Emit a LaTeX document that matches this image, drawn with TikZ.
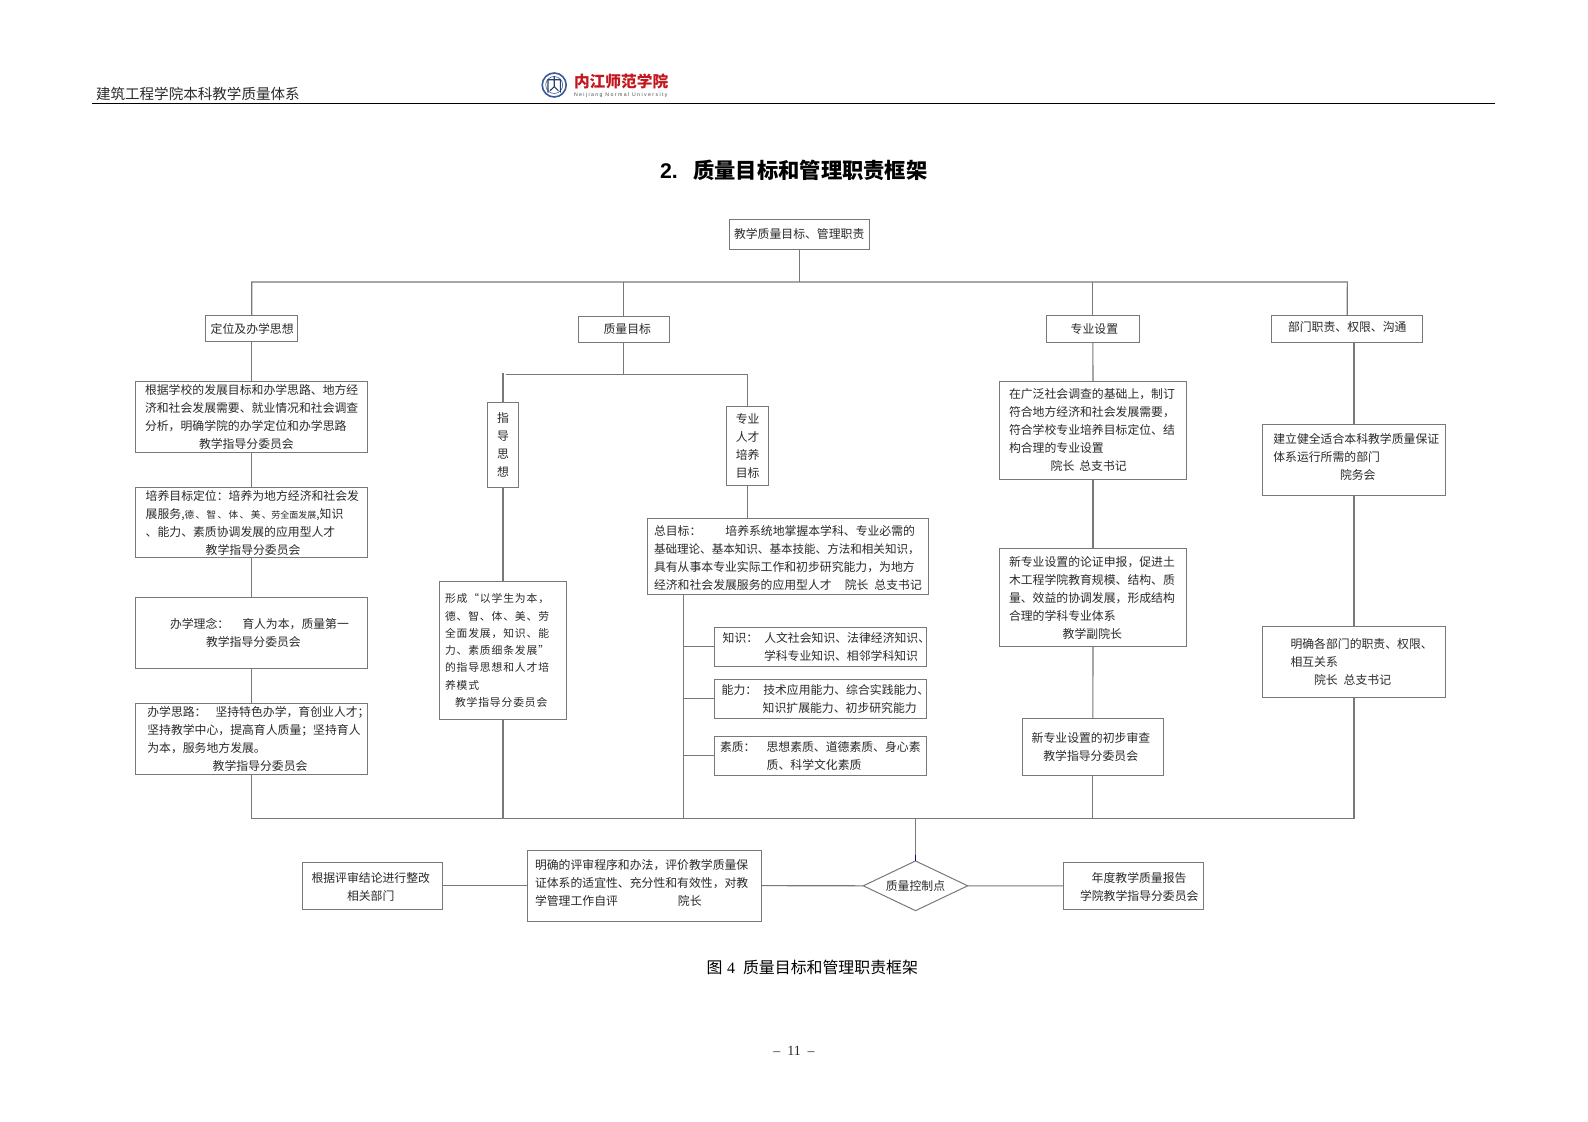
\documentclass[tikz,border=0pt]{standalone}
\usepackage{fontspec}
\setmainfont{Noto Sans CJK SC}
\newfontfamily\latf{Liberation Serif}
\newfontfamily\lats{Liberation Sans}
\usetikzlibrary{shapes.geometric,calc}
\definecolor{ln}{HTML}{787878}
\definecolor{tx}{HTML}{2A2A2A}
\definecolor{logored}{HTML}{C4161C}
\definecolor{logoblue}{HTML}{3A5A9A}
\newcommand{\bodyfont}{\fontsize{11.85}{18}\selectfont}
\newcommand{\ind}[1]{\hspace*{#1pt}}
\newcommand{\dnrule}[1]{\rule{0pt}{#1pt}}
\newcommand{\uprule}[1]{\rule[-#1pt]{0pt}{#1pt}}
\newcommand{\flowbx}[7]{%
  \pgfmathsetmacro\fcx{(#2+#4)/2}\pgfmathsetmacro\fcy{(#3+#5)/2}%
  \pgfmathsetmacro\fww{#4-#2}\pgfmathsetmacro\fhh{#5-#3}%
  \node[flowbox,minimum width=\fww pt,minimum height=\fhh pt,text width=\fww pt] (#1) at (\fcx,\fcy) {\leftskip=#6pt\relax #7\par};}
\tikzset{
  flowbox/.style={draw=ln,line width=1pt,rectangle,inner sep=0pt,outer sep=0pt,align=left,text=tx,font=\bodyfont,fill=white},
  conn/.style={draw=ln,line width=1.1pt},
  plain/.style={inner sep=0pt,outer sep=0pt,text=tx}
}
\begin{document}
\begin{tikzpicture}[x=1pt,y=-1pt]
\useasboundingbox (0,0) rectangle (1588,1122);
% header
\node[plain,anchor=west,font=\fontsize{14.55}{16}\selectfont] (head) at (96,93.5) {建筑工程学院本科教学质量体系};
\coordinate (ruleL) at (92,103.7);
\coordinate (ruleR) at (1495.3,103.7);
\draw[black,line width=1.5pt] (ruleL) -- (ruleR);
% logo
\draw[logoblue,line width=1.6pt] (554.2,85) circle (12);
\draw[logoblue,line width=.6pt] (554.2,85) circle (8.5);
\draw[logoblue!70!black,line width=1.1pt] (548,92.7) -- (548,79.7) -- (560.4,79.7) -- (560.4,92.7) (554.2,76.2) -- (554.2,86.7) -- (550,90.7) (554.2,86.7) -- (558.4,90.7);
\node[plain,anchor=west,text=logored,font=\fontsize{15.7}{16}\bfseries\selectfont] (lgcn) at (574,81.7) {内江师范学院};
\node[plain,anchor=west,text=black!70,font=\lats\fontsize{5.2}{6}\selectfont\addfontfeature{LetterSpace=27}] (lgen) at (574,95) {Neijiang Normal University};
% title
\node[plain,anchor=west,text=black,font=\fontsize{21.3}{24}\bfseries\selectfont] (title) at (660,170) {{\lats 2.}\hspace{15.5pt}质量目标和管理职责框架};
% top
\flowbx{top}{729.3}{219}{869.7}{249.3}{4.7}{教学质量目标、管理职责}
\coordinate (busL) at (251.7,282);
\coordinate (busR) at (1347.3,282);
% column heads
\flowbx{dw}{205.7}{315.7}{297.7}{341.7}{5}{定位及办学思想}
\flowbx{zl}{578.3}{316}{669.5}{342}{25.3}{质量目标}
\flowbx{zy}{1046.7}{315.3}{1139}{342}{24}{专业设置}
\flowbx{bm}{1271.7}{315.3}{1422.7}{342}{16.3}{部门职责、权限、沟通\uprule{5}}
% column 1
\flowbx{a1}{135.7}{381}{367.7}{452.3}{9.3}{根据学校的发展目标和办学思路、地方经\\济和社会发展需要、就业情况和社会调查\\分析，明确学院的办学定位和办学思路\\\ind{54}教学指导分委员会}
\flowbx{a2}{135.7}{487.3}{367.7}{557.7}{10}{培养目标定位：培养为地方经济和社会发\\展服务,{\fontsize{9.6}{18}\selectfont\addfontfeature{LetterSpace=15}德、智、体、美、}{\fontsize{9}{18}\selectfont 劳全面发展},知识\\、能力、素质协调发展的应用型人才\\\ind{60}教学指导分委员会}
\flowbx{a3}{135.7}{597.3}{367.7}{668.3}{34.3}{办学理念：\ind{13}育人为本，质量第一\\\ind{36}教学指导分委员会}
\flowbx{a4}{135.7}{703.3}{367.7}{774.3}{11.6}{办学思路：\ind{9}坚持特色办学，育创业人才；\\坚持教学中心，提高育人质量；坚持育人\\为本，服务地方发展。\\\ind{65.4}教学指导分委员会}
% column 2
\flowbx{zd}{487.3}{402.7}{518.7}{487}{9.8}{指\\导\\思\\想}
\flowbx{xc}{439.3}{581.7}{566.7}{719.3}{5.7}{\fontsize{10.8}{17.3}\selectfont\addfontfeature{LetterSpace=8}形成“以学生为本，\\德、智、体、美、劳\\全面发展，知识、能\\力、素质细条发展”\\的指导思想和人才培\\养模式\\\ind{10}教学指导分委员会}
\flowbx{rc}{726.3}{406}{768.7}{485.7}{9.5}{专业\\人才\\培养\\目标}
\flowbx{zm}{647.3}{518.3}{928.7}{594.3}{6.7}{\dnrule{14}总目标：\ind{24}培养系统地掌握本学科、专业必需的\\{\fontsize{11.55}{18}\selectfont 基础理论、基本知识、基本技能、方法和相关知识，}\\具有从事本专业实际工作和初步研究能力，为地方\\经济和社会发展服务的应用型人才\ind{13}院长\ind{6}总支书记}
\flowbx{zs}{714.3}{627.3}{926.7}{666}{8.4}{知识：\ind{6}人文社会知识、法律经济知识、\\\ind{41.3}学科专业知识、相邻学科知识}
\flowbx{nl}{714.3}{679}{926.7}{718}{7.4}{能力：\ind{6}技术应用能力、综合实践能力、\\\ind{41}知识扩展能力、初步研究能力}
\flowbx{sz}{714.3}{736}{926.7}{775}{5.7}{素质：\ind{11}思想素质、道德素质、身心素\\\ind{46.7}质、科学文化素质}
% column 3
\flowbx{c1}{999.3}{381.3}{1186.7}{479}{9.7}{在广泛社会调查的基础上，制订\\符合地方经济和社会发展需要，\\符合学校专业培养目标定位、结\\构合理的专业设置\\\ind{41.7}院长\ind{5}总支书记}
\flowbx{c2}{999.3}{548.3}{1186.7}{646.7}{9.7}{新专业设置的论证申报，促进土\\木工程学院教育规模、结构、质\\量、效益的协调发展，形成结构\\合理的学科专业体系\\\ind{53.7}教学副院长}
\flowbx{c3}{1022}{718.3}{1163.7}{775.3}{9.7}{新专业设置的初步审查\\\ind{11.6}教学指导分委员会}
% column 4
\flowbx{d1}{1262.3}{424}{1445.7}{495}{11}{建立健全适合本科教学质量保证\\体系运行所需的部门\\\ind{66.7}院务会\uprule{7}}
\flowbx{d2}{1262.3}{626.3}{1445.7}{697.7}{28.2}{明确各部门的职责、权限、\\相互关系\\\ind{23.5}院长\ind{6}总支书记}
% bottom row
\flowbx{gj}{302.5}{862.3}{442.5}{909}{9}{\dnrule{13.5}根据评审结论进行整改\\\ind{35.5}相关部门}
\flowbx{pj}{527.3}{850.3}{761.3}{921}{7.7}{明确的评审程序和办法，评价教学质量保\\证体系的适宜性、充分性和有效性，对教\\学管理工作自评\ind{60}院长\uprule{7}}
\node[diamond,draw=ln,line width=1pt,inner sep=0pt,outer sep=0pt,aspect=2.1,minimum width=104.4pt,minimum height=49.7pt,text=tx,font=\bodyfont] (kz) at (915.5,885.8) {质量控制点};
\flowbx{nd}{1063.3}{862.7}{1203.7}{909}{16.7}{\dnrule{12.5}\ind{11.7}年度教学质量报告\\学院教学指导分委员会}
% caption and page number
\node[plain,text=black,font=\fontsize{15.9}{18}\selectfont,anchor=west] (cap) at (706.7,967) {图{\latf\hspace{4.5pt}4\hspace{8pt}}质量目标和管理职责框架};
\node[plain,font=\latf\fontsize{14}{16}\selectfont] (pg) at (794,1051) {–\hspace{7pt}11\hspace{7pt}–};
% connectors
\coordinate (subL) at (505.7,374.3);
\coordinate (subR) at (747.3,374.3);
\coordinate (subT) at (503,373.3);
\coordinate (botL) at (251.7,818.5);
\coordinate (botR) at (1354,818.5);
\coordinate (trunk) at (683.3,818.5);
\coordinate (tipA) at (915.5,855);
\draw[conn] (top.south) -- (top.south |- busL);
\draw[conn] (dw.north) -- (busL) -- (busR) -- (bm.north);
\draw[conn] (zl.north) -- (zl.north |- busL);
\draw[conn] (zy.north) -- (zy.north |- busL);
\draw[conn] (dw.south) -- (a1.north);
\draw[conn] (a1.south) -- (a2.north);
\draw[conn] (a2.south) -- (a3.north);
\draw[conn] (a3.south) -- (a4.north);
\draw[conn] (a4.south) -- (botL) -- (botR) -- (d2.south);
\draw[conn] (zl.south) -- (zl.south |- subL);
\draw[conn] (subL) -- (subR) -- (subR |- rc.north);
\draw[conn] (subT) -- (zd.north);
\draw[conn] (zd.south) -- (xc.north);
\draw[conn] (xc.south) -- (xc.south |- botL);
\draw[conn] (subR |- rc.south) -- (subR |- zm.north);
\draw[conn] (trunk |- zm.south) -- (trunk);
\draw[conn] (zs.west) -- (zs.west -| trunk);
\draw[conn] (nl.west) -- (nl.west -| trunk);
\draw[conn] (sz.west) -- (sz.west -| trunk);
\draw[conn] (zy.south) -- (c1.north);
\draw[conn] (c1.south) -- (c2.north);
\draw[conn] (c2.south) -- (c3.north);
\draw[conn] (c3.south) -- (c3.south |- botL);
\draw[conn] (d1.north) -- (d1.north |- bm.south);
\draw[conn] (d1.south) -- (d2.north);
\draw[conn] (kz.north |- botL) -- (tipA);
\draw[draw=blue!70!black,line width=1.1pt] (tipA) -- (kz.north);
\draw[conn] (gj.east) -- (pj.west);
\draw[conn] (pj.east) -- (kz.west);
\draw[conn] (kz.east) -- (nd.west);
\end{tikzpicture}
\end{document}
